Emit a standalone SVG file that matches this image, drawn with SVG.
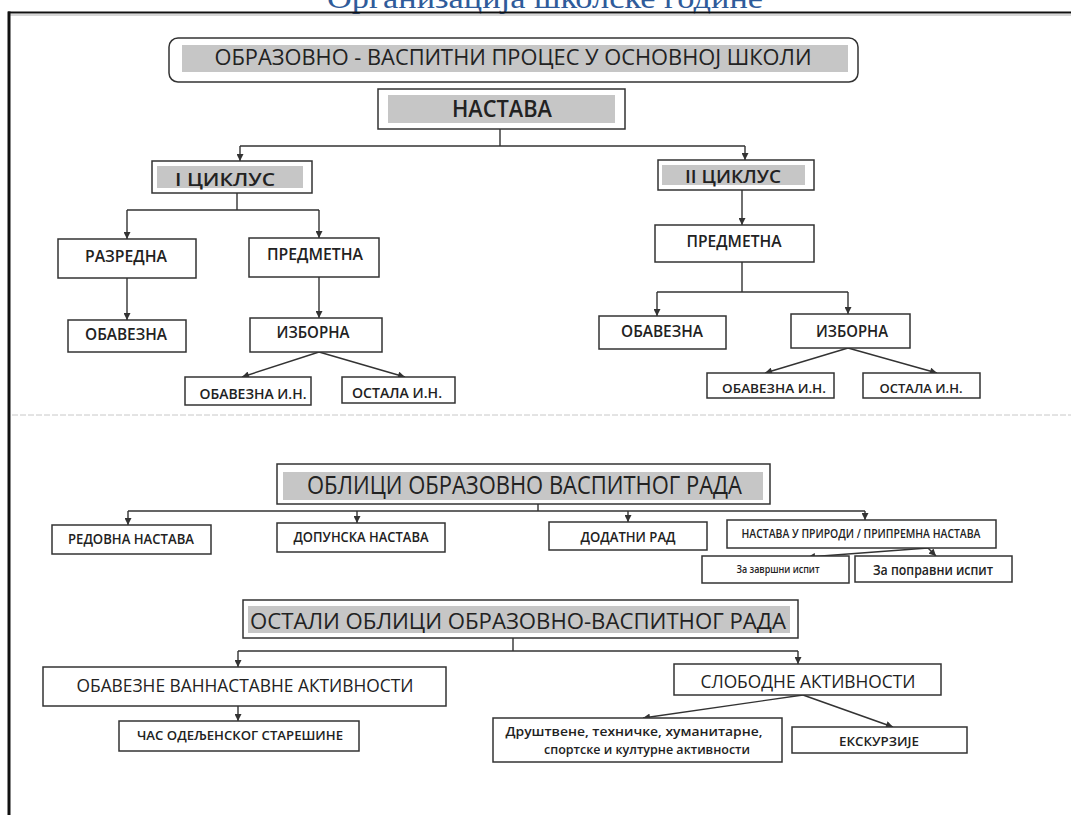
<svg xmlns="http://www.w3.org/2000/svg" width="1071" height="815" viewBox="0 0 1071 815">
<defs>
<style>
.bx{fill:#fff;stroke:#333;stroke-width:1.5}
.gr{fill:#c6c6c6;stroke:none}
.t{font-family:"Open Sans","Liberation Sans",sans-serif;font-weight:600;fill:#222;text-anchor:middle}
.h{font-family:"Open Sans","Liberation Sans",sans-serif;font-weight:400;fill:#222;text-anchor:middle}
.c{fill:none;stroke:#333;stroke-width:1.4}
</style>
<marker id="ah" viewBox="0 0 10 10" refX="10" refY="5" markerWidth="8" markerHeight="7" markerUnits="userSpaceOnUse" orient="auto"><path d="M0,0 L10,5 L0,10 z" fill="#333"/></marker>
</defs>
<rect width="1071" height="815" fill="#fff"/>
<text x="545" y="8" font-family="Liberation Serif,serif" font-size="30" fill="#2f5b9a" text-anchor="middle" textLength="436" lengthAdjust="spacingAndGlyphs">Организација школске године</text>
<g id="frame">
<line x1="8" y1="12.5" x2="1071" y2="12.5" stroke="#111" stroke-width="2.2"/>
<line x1="8" y1="15" x2="1071" y2="15" stroke="#999" stroke-width="0.8"/>
<line x1="9" y1="11.5" x2="9" y2="815" stroke="#111" stroke-width="3"/>
<line x1="12" y1="415" x2="1071" y2="415" stroke="#c8c8c8" stroke-width="1" stroke-dasharray="6 2"/>
</g>
<g id="connectors">
<path class="c" d="M500,129 V146 M240,146 H745"/>
<path class="c" d="M240,146 V161" marker-end="url(#ah)"/>
<path class="c" d="M745,146 V160" marker-end="url(#ah)"/>
<path class="c" d="M237,193 V210 M127,210 H319"/>
<path class="c" d="M127,210 V239" marker-end="url(#ah)"/>
<path class="c" d="M319,210 V238" marker-end="url(#ah)"/>
<path class="c" d="M127,278 V320" marker-end="url(#ah)"/>
<path class="c" d="M319,277 V318" marker-end="url(#ah)"/>
<path class="c" d="M319,352 L242,377" marker-end="url(#ah)"/>
<path class="c" d="M319,352 L405,377" marker-end="url(#ah)"/>
<path class="c" d="M742,190 V225" marker-end="url(#ah)"/>
<path class="c" d="M742,262 V292 M657,292 H848"/>
<path class="c" d="M657,292 V316" marker-end="url(#ah)"/>
<path class="c" d="M848,292 V314" marker-end="url(#ah)"/>
<path class="c" d="M848,348 L765,373" marker-end="url(#ah)"/>
<path class="c" d="M848,348 L937,373" marker-end="url(#ah)"/>
<path class="c" d="M538,504 V511 M128,511 H865"/>
<path class="c" d="M128,511 V525" marker-end="url(#ah)"/>
<path class="c" d="M357,511 V523" marker-end="url(#ah)"/>
<path class="c" d="M628,511 V522" marker-end="url(#ah)"/>
<path class="c" d="M865,511 V520" marker-end="url(#ah)"/>
<path class="c" d="M928,548 L808,557" marker-end="url(#ah)"/>
<path class="c" d="M928,548 L936,556" marker-end="url(#ah)"/>
<path class="c" d="M513,638 V651 M238,651 H798"/>
<path class="c" d="M238,651 V667" marker-end="url(#ah)"/>
<path class="c" d="M798,651 V664" marker-end="url(#ah)"/>
<path class="c" d="M238,706 V721" marker-end="url(#ah)"/>
<path class="c" d="M803,695 L643,718" marker-end="url(#ah)"/>
<path class="c" d="M803,695 L893,727" marker-end="url(#ah)"/>
</g>
<g id="n-proces">
<rect class="bx" x="169" y="38" width="689" height="44" rx="9"/>
<rect class="gr" x="182" y="45" width="666" height="27"/>
<text class="h" x="513" y="65" font-size="21" textLength="597" lengthAdjust="spacingAndGlyphs">ОБРАЗОВНО - ВАСПИТНИ ПРОЦЕС У ОСНОВНОЈ ШКОЛИ</text>
</g>
<g id="n-nastava">
<rect class="bx" x="378" y="89" width="247" height="40"/>
<rect class="gr" x="388" y="95" width="227" height="28"/>
<text class="t" x="502" y="117" font-size="23" textLength="100" lengthAdjust="spacingAndGlyphs">НАСТАВА</text>
</g>
<g id="n-ciklus1">
<rect class="bx" x="152" y="161" width="160" height="32"/>
<rect class="gr" x="157" y="166" width="146" height="22"/>
<text class="t" x="225" y="186" font-size="18" textLength="100" lengthAdjust="spacingAndGlyphs">I ЦИКЛУС</text>
</g>
<g id="n-ciklus2">
<rect class="bx" x="658" y="160" width="156" height="30"/>
<rect class="gr" x="662" y="165" width="143" height="20"/>
<text class="t" x="733" y="183" font-size="18" textLength="96" lengthAdjust="spacingAndGlyphs">II ЦИКЛУС</text>
</g>
<g id="n-razredna">
<rect class="bx" x="58" y="239" width="138" height="39"/>
<text class="t" x="126" y="262" font-size="16" textLength="82" lengthAdjust="spacingAndGlyphs">РАЗРЕДНА</text>
</g>
<g id="n-predmetna1">
<rect class="bx" x="249" y="238" width="130" height="39"/>
<text class="t" x="315" y="260" font-size="16" textLength="96" lengthAdjust="spacingAndGlyphs">ПРЕДМЕТНА</text>
</g>
<g id="n-obavezna1">
<rect class="bx" x="68" y="320" width="118" height="32"/>
<text class="t" x="126" y="340" font-size="16" textLength="82" lengthAdjust="spacingAndGlyphs">ОБАВЕЗНА</text>
</g>
<g id="n-izborna1">
<rect class="bx" x="250" y="318" width="132" height="34"/>
<text class="t" x="313" y="338" font-size="16" textLength="73" lengthAdjust="spacingAndGlyphs">ИЗБОРНА</text>
</g>
<g id="n-obin1">
<rect class="bx" x="185" y="377" width="126" height="28"/>
<text class="t" x="253" y="399" font-size="14" textLength="107" lengthAdjust="spacingAndGlyphs">ОБАВЕЗНА И.Н.</text>
</g>
<g id="n-ostin1">
<rect class="bx" x="342" y="377" width="113" height="26"/>
<text class="t" x="397" y="398" font-size="14" textLength="90" lengthAdjust="spacingAndGlyphs">ОСТАЛА И.Н.</text>
</g>
<g id="n-predmetna2">
<rect class="bx" x="655" y="225" width="159" height="37"/>
<text class="t" x="734" y="247" font-size="16" textLength="95" lengthAdjust="spacingAndGlyphs">ПРЕДМЕТНА</text>
</g>
<g id="n-obavezna2">
<rect class="bx" x="599" y="316" width="127" height="33"/>
<text class="t" x="662" y="337" font-size="16" textLength="82" lengthAdjust="spacingAndGlyphs">ОБАВЕЗНА</text>
</g>
<g id="n-izborna2">
<rect class="bx" x="791" y="314" width="119" height="34"/>
<text class="t" x="852" y="337" font-size="16" textLength="72" lengthAdjust="spacingAndGlyphs">ИЗБОРНА</text>
</g>
<g id="n-obin2">
<rect class="bx" x="707" y="373" width="127" height="25"/>
<text class="t" x="774" y="393" font-size="13" textLength="104" lengthAdjust="spacingAndGlyphs">ОБАВЕЗНА И.Н.</text>
</g>
<g id="n-ostin2">
<rect class="bx" x="863" y="373" width="117" height="25"/>
<text class="t" x="921" y="393" font-size="13" textLength="83" lengthAdjust="spacingAndGlyphs">ОСТАЛА И.Н.</text>
</g>
<g id="n-oblici">
<rect class="bx" x="277" y="464" width="493" height="40"/>
<rect class="gr" x="283" y="472" width="480" height="28"/>
<text class="h" x="524.5" y="494" font-size="25" textLength="435" lengthAdjust="spacingAndGlyphs">ОБЛИЦИ ОБРАЗОВНО ВАСПИТНОГ РАДА</text>
</g>
<g id="n-redovna">
<rect class="bx" x="52" y="525" width="159" height="29"/>
<text class="t" x="131" y="544" font-size="14" textLength="126" lengthAdjust="spacingAndGlyphs">РЕДОВНА НАСТАВА</text>
</g>
<g id="n-dopunska">
<rect class="bx" x="277" y="523" width="168" height="29"/>
<text class="t" x="361" y="542" font-size="14" textLength="135" lengthAdjust="spacingAndGlyphs">ДОПУНСКА НАСТАВА</text>
</g>
<g id="n-dodatni">
<rect class="bx" x="549" y="522" width="158" height="28"/>
<text class="t" x="628" y="542" font-size="14" textLength="95" lengthAdjust="spacingAndGlyphs">ДОДАТНИ РАД</text>
</g>
<g id="n-priroda">
<rect class="bx" x="727" y="520" width="269" height="28"/>
<text class="t" x="861" y="538" font-size="12" textLength="239" lengthAdjust="spacingAndGlyphs">НАСТАВА У ПРИРОДИ / ПРИПРЕМНА НАСТАВА</text>
</g>
<g id="n-zavrsni">
<rect class="bx" x="702" y="556" width="147" height="27"/>
<text class="t" x="778" y="573" font-size="11" textLength="83" lengthAdjust="spacingAndGlyphs">За завршни испит</text>
</g>
<g id="n-popravni">
<rect class="bx" x="855" y="556" width="157" height="26"/>
<text class="t" x="933" y="575" font-size="15" textLength="120" lengthAdjust="spacingAndGlyphs">За поправни испит</text>
</g>
<g id="n-ostali">
<rect class="bx" x="243" y="600" width="555" height="38"/>
<rect class="gr" x="248" y="606" width="542" height="27"/>
<text class="h" x="518" y="629" font-size="22" textLength="536" lengthAdjust="spacingAndGlyphs">ОСТАЛИ ОБЛИЦИ ОБРАЗОВНО-ВАСПИТНОГ РАДА</text>
</g>
<g id="n-obaveznevan">
<rect class="bx" x="43" y="667" width="403" height="39"/>
<text class="h" x="245" y="692" font-size="18" textLength="337" lengthAdjust="spacingAndGlyphs">ОБАВЕЗНЕ ВАННАСТАВНЕ АКТИВНОСТИ</text>
</g>
<g id="n-cas">
<rect class="bx" x="119" y="721" width="240" height="30"/>
<text class="t" x="240" y="740" font-size="13" textLength="206" lengthAdjust="spacingAndGlyphs">ЧАС ОДЕЉЕНСКОГ СТАРЕШИНЕ</text>
</g>
<g id="n-slobodne">
<rect class="bx" x="674" y="664" width="267" height="31"/>
<text class="h" x="808" y="688" font-size="18" textLength="215" lengthAdjust="spacingAndGlyphs">СЛОБОДНЕ АКТИВНОСТИ</text>
</g>
<g id="n-drustvene">
<rect class="bx" x="493" y="718" width="289" height="44"/>
<text class="t" x="634" y="736" font-size="12.5" textLength="257" lengthAdjust="spacingAndGlyphs">Друштвене, техничке, хуманитарне,</text>
<text class="t" x="647" y="754" font-size="12.5" textLength="206" lengthAdjust="spacingAndGlyphs">спортске и културне активности</text>
</g>
<g id="n-ekskurzije">
<rect class="bx" x="792" y="727" width="175" height="26"/>
<text class="t" x="879" y="746" font-size="13" textLength="80" lengthAdjust="spacingAndGlyphs">ЕКСКУРЗИЈЕ</text>
</g>
</svg>
